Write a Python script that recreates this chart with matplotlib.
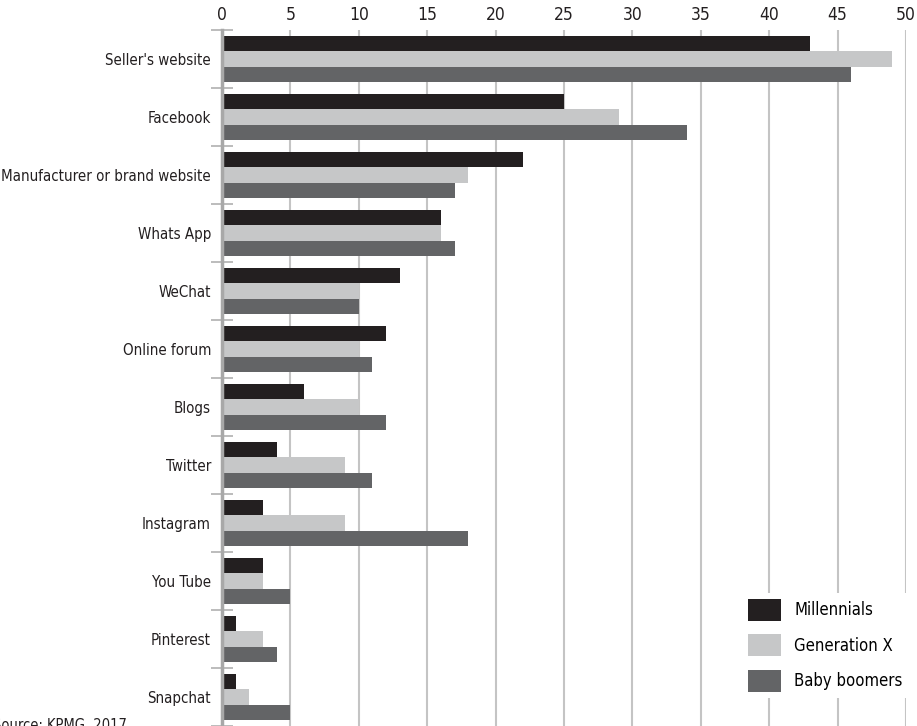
import numpy as np
import matplotlib
matplotlib.use("Agg")
import matplotlib.pyplot as plt
from matplotlib.patches import Patch

plt.rcParams['font.family'] = ['DejaVu Sans']
plt.rcParams['font.stretch'] = 'condensed'

# Data
categories = ["Seller's website", "Facebook", "Manufacturer or brand website",
              "Whats App", "WeChat", "Online forum", "Blogs", "Twitter",
              "Instagram", "You Tube", "Pinterest", "Snapchat"]
millennials = [43, 25, 22, 16, 13, 12, 6, 4, 3, 3, 1, 1]
generation_x = [49, 29, 18, 16, 10, 10, 10, 9, 9, 3, 3, 2]
baby_boomers = [46, 34, 17, 17, 10, 11, 12, 11, 18, 5, 4, 5]
series_names = ["Millennials", "Generation X", "Baby boomers"]
x_ticks = list(range(0, 51, 5))
source_text = "Source: KPMG, 2017"

colors = ['#231f20', '#c6c7c8', '#636466']
grid_col = '#c4c4c4'

fig = plt.figure(figsize=(9.17, 7.26), dpi=100)
ax = fig.add_axes([222 / 917, 0.0, 684 / 917, 696 / 726])

y = np.arange(len(categories))
h = 0.26
for i, (vals, col) in enumerate(zip([millennials, generation_x, baby_boomers], colors)):
    ax.barh(y + (i - 1) * h, vals, height=h, color=col, zorder=2)

ax.set_xlim(0, 50)
ax.set_ylim(len(categories) - 0.5, -0.5)

# x axis on top
ax.xaxis.tick_top()
ax.set_xticks(x_ticks)
ax.tick_params(axis='x', length=0, pad=4, labelsize=12.5, colors='#231f20')
ax.grid(axis='x', color=grid_col, linewidth=1.5, zorder=0)

# y labels at category centres, tick marks at category boundaries
ax.set_yticks(y)
ax.set_yticklabels(categories)
ax.tick_params(axis='y', which='major', length=0, pad=8, labelsize=10.8, colors='#231f20')
ax.set_yticks(np.arange(-0.5, len(categories), 1.0), minor=True)
ax.tick_params(axis='y', which='minor', direction='inout', length=16, width=1.2, color='#b0b0b0')

for s in ['top', 'right', 'bottom']:
    ax.spines[s].set_visible(False)
ax.spines['left'].set_color('#a8a8a8')
ax.spines['left'].set_linewidth(2.5)
ax.spines['left'].set_zorder(3)

handles = [Patch(facecolor=c, edgecolor='none') for c in colors]
leg = fig.legend(handles, series_names, loc='upper left',
                 bbox_to_anchor=(742 / 917, 1 - 593 / 726),
                 frameon=True, facecolor='white', edgecolor='none', framealpha=1,
                 fontsize=12, handlelength=2.0, handleheight=1.65,
                 labelspacing=0.82, handletextpad=0.8, borderpad=0.35,
                 borderaxespad=0, fancybox=False)

fig.text(-7 / 917, 8 / 726, source_text, fontsize=10.5, color='#231f20',
         ha='left', va='top')

fig.savefig('out.png', dpi=100, facecolor='white')
